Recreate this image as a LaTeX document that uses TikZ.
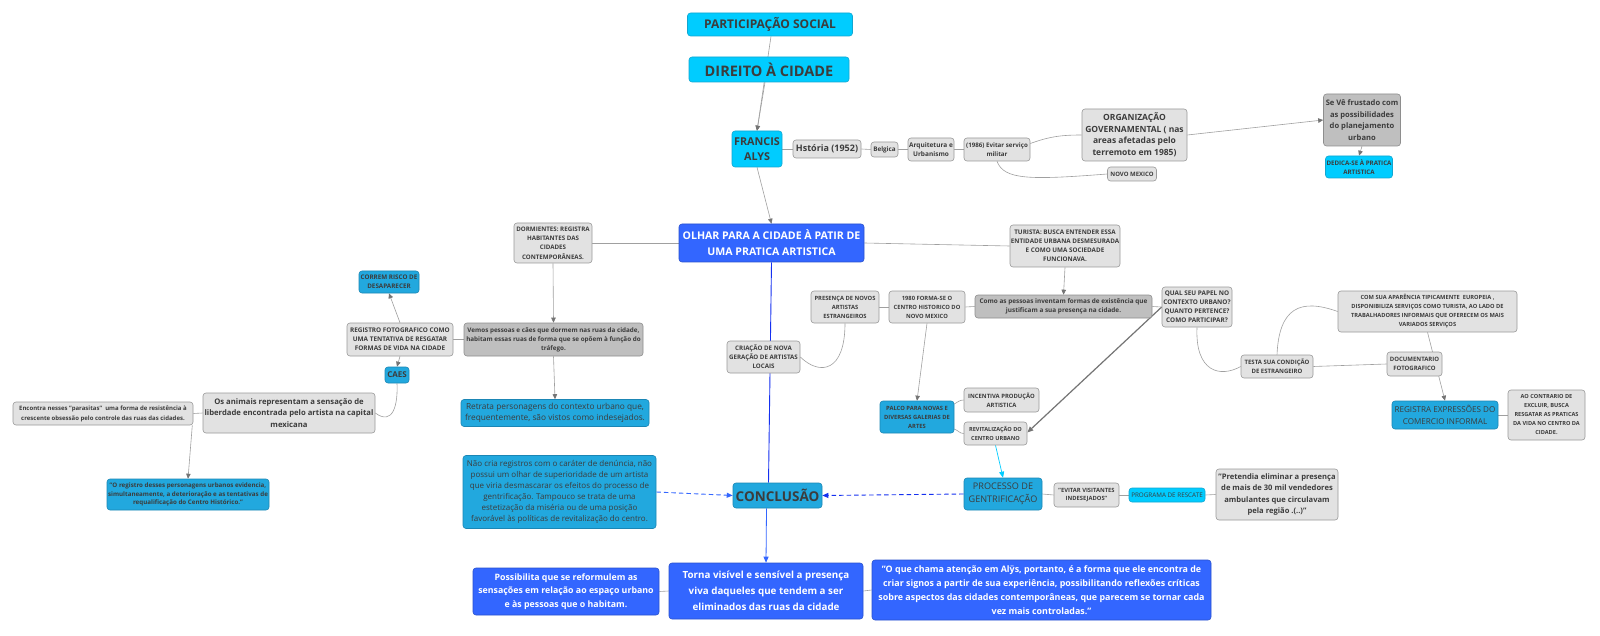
\documentclass[tikz,border=0pt]{standalone}
\usepackage{fontspec}
\setmainfont{Open Sans}
\usetikzlibrary{positioning, arrows.meta}
\pgfdeclarelayer{bg}
\pgfsetlayers{bg,main}
\definecolor{txt}{HTML}{3C3C3C}
\definecolor{grayfill}{HTML}{E2E2E2}
\definecolor{grayline}{HTML}{9A9A9A}
\definecolor{darkfill}{HTML}{BFBFBF}
\definecolor{darkline}{HTML}{8E8E8E}
\definecolor{cyanfill}{HTML}{00CCFF}
\definecolor{cyanline}{HTML}{12A6D0}
\definecolor{bluefill}{HTML}{22A8DE}
\definecolor{blueline}{HTML}{1B86B5}
\definecolor{royalfill}{HTML}{3366FF}
\definecolor{royalline}{HTML}{2A52CC}
\definecolor{linkgray}{HTML}{A0A0A0}
\definecolor{tipgray}{HTML}{747474}
\definecolor{deepblue}{HTML}{1530F0}

\begin{document}
\begin{tikzpicture}[x=1pt, y=-1pt,
    box/.style={rounded corners=3pt, align=center, inner sep=0.5pt, text=txt, line width=0.6pt},
    graybox/.style={box, fill=grayfill, draw=grayline},
    darkbox/.style={box, fill=darkfill, draw=darkline},
    cyanbox/.style={box, fill=cyanfill, draw=cyanline},
    bluebox/.style={box, fill=bluefill, draw=blueline},
    royalbox/.style={box, fill=royalfill, draw=royalline, text=white},
    wh/.style 2 args={minimum width=#1pt, minimum height=#2pt},
    ft/.style 2 args={font=\fontsize{#1pt}{#2pt}\selectfont\bfseries},
    fr/.style 2 args={font=\fontsize{#1pt}{#2pt}\selectfont},
    link/.style={draw=linkgray, line width=0.6pt},
    arr/.style={link, -{Triangle[length=5pt, width=4.5pt, color=tipgray]}},
    bluearr/.style={line width=0.8pt, -{Triangle[length=6pt, width=5pt]}},
    dasharr/.style={bluearr, line width=0.9pt, draw=deepblue, dash pattern=on 4.5pt off 3pt}]
\useasboundingbox (0,0) rectangle (1600,636);

\node (part) [cyanbox, wh={165}{23}, ft={12}{14}] at (770,24.5) {PARTICIPAÇÃO SOCIAL};
\node (dir) [cyanbox, wh={160}{25}, ft={14.5}{16}] at (769,69.5) {DIREITO À CIDADE};
\node (fran) [cyanbox, wh={50}{36}, ft={10.8}{15}] at (757,149) {FRANCIS\\ALYS};
\node (hist) [graybox, wh={68}{18}, ft={9}{10}] at (827,149) {Hstória (1952)};
\node (belg) [graybox, wh={27}{15}, ft={6.3}{7}] at (884.5,149.5) {Belgica};
\node (arq) [graybox, wh={46}{23}, ft={6.5}{9}] at (931,149.5) {Arquitetura e\\Urbanismo};
\node (serv) [graybox, wh={66}{23}, ft={6.2}{9}] at (997,149.5) {(1986) Evitar serviço\\militar};
\node (org) [graybox, wh={105}{52}, ft={8.5}{11.5}] at (1134.5,135) {ORGANIZAÇÃO\\GOVERNAMENTAL ( nas\\areas afetadas pelo\\terremoto em 1985)};
\node (novo) [graybox, wh={49}{14}, ft={6}{7}] at (1132,174) {NOVO MEXICO};
\node (frust) [darkbox, wh={77}{52}, ft={7.6}{11.5}] at (1362,120) {Se Vê frustado com\\as possibilidades\\do planejamento\\urbano};
\node (dedica) [cyanbox, wh={67}{22}, ft={6.2}{9}] at (1359,167) {DEDICA-SE À PRATICA\\ARTISTICA};

\node (olhar) [royalbox, wh={185}{38}, ft={10.6}{16}] at (771.5,243) {OLHAR PARA A CIDADE À PATIR DE\\UMA PRATICA ARTISTICA};
\node (dorm) [graybox, wh={78}{40}, ft={6.2}{9.2}] at (553,243) {DORMIENTES: REGISTRA\\HABITANTES DAS\\CIDADES\\CONTEMPORÂNEAS.};
\node (tur) [graybox, wh={110}{42}, ft={6.3}{9}] at (1065,246) {TURISTA: BUSCA ENTENDER ESSA\\ENTIDADE URBANA DESMESURADA\\E COMO UMA SOCIEDADE\\FUNCIONAVA.};
\node (vemos) [darkbox, wh={179}{33}, ft={6.3}{9}] at (553.5,339.5) {Vemos pessoas e cães que dormem nas ruas da cidade,\\habitam essas ruas de forma que se opõem à função do\\tráfego.};
\node (regfoto) [graybox, wh={106}{33}, ft={6.4}{9}] at (400,339.5) {REGISTRO FOTOGRAFICO COMO\\UMA TENTATIVA DE RESGATAR\\FORMAS DE VIDA NA CIDADE};
\node (risco) [bluebox, wh={60}{22}, ft={6.3}{9}] at (389,282) {CORREM RISCO DE\\DESAPARECER};
\node (caes) [bluebox, wh={24}{16}, ft={8}{9}] at (397,375) {CAES};
\node (animais) [graybox, wh={172}{40}, ft={7.7}{11.5}] at (289,413) {Os animais representam a sensação de\\liberdade encontrada pelo artista na capital\\mexicana};
\node (parasit) [graybox, wh={180}{23}, ft={6}{10}] at (103,413.5) {Encontra nesses "parasitas"\ \ uma forma de resistência à\\crescente obsessão pelo controle das ruas das cidades.};
\node (oreg) [bluebox, wh={162}{31}, ft={6.2}{8.5}] at (188,494.5) {"O registro desses personagens urbanos evidencia,\\simultaneamente, a deterioração e as tentativas de\\requalificação do Centro Histórico."};
\node (retrata) [bluebox, wh={188}{27}, fr={8.3}{11.5}] at (555,413) {Retrata personagens do contexto urbano que,\\frequentemente, são vistos como indesejados.};

\node (novos) [graybox, wh={68}{32}, ft={5.8}{9}] at (845,307) {PRESENÇA DE NOVOS\\ARTISTAS\\ESTRANGEIROS};
\node (centro) [graybox, wh={76}{32}, ft={5.8}{9}] at (927,307) {1980 FORMA-SE O\\CENTRO HISTORICO DO\\NOVO MEXICO};
\node (como) [darkbox, wh={177}{23}, ft={6.4}{9.3}] at (1063.5,306.5) {Como as pessoas inventam formas de existência que\\justificam a sua presença na cidade.};
\node (papel) [graybox, wh={70}{40}, ft={6.4}{9}] at (1197,307) {QUAL SEU PAPEL NO\\CONTEXTO URBANO?\\QUANTO PERTENCE?\\COMO PARTICIPAR?};
\node (europeia) [graybox, wh={179}{41}, ft={5.7}{9}] at (1427.5,311.5) {COM SUA APARÊNCIA TIPICAMENTE\ \ EUROPEIA ,\\DISPONIBILIZA SERVIÇOS COMO TURISTA, AO LADO DE\\TRABALHADORES INFORMAIS QUE OFERECEM OS MAIS\\VARIADOS SERVIÇOS};
\node (testa) [graybox, wh={72}{23}, ft={6}{9}] at (1277,366.5) {TESTA SUA CONDIÇÃO\\DE ESTRANGEIRO};
\node (docu) [graybox, wh={55}{24}, ft={6}{9}] at (1414.5,364) {DOCUMENTARIO\\FOTOGRAFICO};
\node (comercio) [bluebox, wh={106}{28}, fr={8.1}{12}] at (1445,415) {REGISTRA EXPRESSÕES DO\\COMERCIO INFORMAL};
\node (contrario) [graybox, wh={77}{50}, ft={5.6}{9}] at (1546.5,415) {AO CONTRARIO DE\\EXCLUIR, BUSCA\\RESGATAR AS PRATICAS\\DA VIDA NO CENTRO DA\\CIDADE.};
\node (locais) [graybox, wh={73}{32}, ft={6.2}{9}] at (763.5,357) {CRIAÇÃO DE NOVA\\GERAÇÃO DE ARTISTAS\\LOCAIS};
\node (palco) [bluebox, wh={74}{32}, ft={5.8}{9}] at (917,417) {PALCO PARA NOVAS E\\DIVERSAS GALERIAS DE\\ARTES};
\node (incent) [graybox, wh={75}{24}, ft={5.9}{9}] at (1001.5,400) {INCENTIVA PRODUÇÃO\\ARTISTICA};
\node (revit) [graybox, wh={63}{23}, ft={5.6}{9}] at (995.5,433.5) {REVITALIZAÇÃO DO\\CENTRO URBANO};

\node (concl) [bluebox, wh={89}{25}, ft={13.5}{16}] at (777.5,495.5) {CONCLUSÃO};
\node (denuncia) [bluebox, wh={193}{73}, fr={8}{11}] at (559.5,492) {Não cria registros com o caráter de denúncia, não\\possui um olhar de superioridade de um artista\\que viria desmascarar os efeitos do processo de\\gentrificação. Tampouco se trata de uma\\estetização da miséria ou de uma posição\\favorável às políticas de revitalização do centro.};
\node (gentri) [bluebox, wh={78}{32}, fr={9.1}{13}] at (1003,494) {PROCESSO DE\\GENTRIFICAÇÃO};
\node (visit) [graybox, wh={65}{24}, ft={5.8}{8.5}] at (1086.5,495) {"EVITAR VISITANTES\\INDESEJADOS"};
\node (resgate) [cyanbox, wh={76}{14}, fr={6.3}{7}] at (1167,495) {PROGRAMA DE RESCATE};
\node (vended) [graybox, wh={122}{51}, ft={7.6}{11.5}] at (1277,494.5) {"Pretendia eliminar a presença\\de mais de 30 mil vendedores\\ambulantes que circulavam\\pela região .(..)"};

\node (reform) [royalbox, wh={186}{47}, ft={8.8}{13.5}] at (566,591.5) {Possibilita que se reformulem as\\sensações em relação ao espaço urbano\\e às pessoas que o habitam.};
\node (torna) [royalbox, wh={194}{56}, ft={9.8}{16}] at (766,591) {Torna visível e sensível a presença\\viva daqueles que tendem a ser\\eliminados das ruas da cidade};
\node (alys) [royalbox, wh={339}{60}, ft={8.9}{14}] at (1041.5,590) {"O que chama atenção em Alÿs, portanto, é a forma que ele encontra de\\criar signos a partir de sua experiência, possibilitando reflexões críticas\\sobre aspectos das cidades contemporâneas, que parecem se tornar cada\\vez mais controladas."};

\begin{pgfonlayer}{bg}
\fill [white] (0,0) rectangle (1600,636);
\draw [arr] ([xshift=1pt]part.south) -- (fran.north);
\draw [arr] ([xshift=-4pt]dir.south) -- (fran.north);
\draw [link] (fran.east) -- (hist.west);
\draw [link] (hist.east) -- (belg.west);
\draw [link] (belg.east) -- (arq.west);
\draw [link] (arq.east) -- (serv.west);
\draw [link] ([yshift=6pt]serv.east) to [out=20, in=180] (org.west);
\draw [link] (serv.south) .. controls (1004,180) and (1030,180) .. (novo.west);
\draw [arr] (org.east) -- (frust.west);
\draw [arr] (frust.south) -- (dedica.north);
\draw [arr] (fran.south) -- (olhar.north);
\draw [link] (dorm.east) -- (olhar.west);
\draw [link] (olhar.east) -- (tur.west);
\draw [arr] (dorm.south) -- (vemos.north);
\draw [link] (vemos.west) -- (regfoto.east);
\draw [arr] (regfoto.north) -- (risco.south);
\draw [arr] (regfoto.south) -- (caes.north);
\draw [link] (caes.south) .. controls (398,405) and (393,426) .. (animais.east);
\draw [link] (parasit.east) -- (animais.west);
\draw [arr] ([xshift=-1pt]parasit.south east) -- (oreg.north);
\draw [arr] (vemos.south) -- (retrata.north);
\draw [line width=0.9pt, draw=deepblue] (olhar.south) -- ([xshift=-9pt]concl.north);
\draw [bluearr, draw=royalfill] ([xshift=-11pt]concl.south) -- (torna.north);
\draw [link] (locais.east) .. controls (820,376) and (845,372) .. (novos.south);
\draw [link] (novos.east) -- (centro.west);
\draw [link] (centro.east) -- (como.west);
\draw [arr] (tur.south) -- (como.north);
\draw [arr] (centro.south) -- (palco.north);
\draw [link] ([yshift=13pt]palco.east) to [out=30, in=180] (incent.west);
\draw [link] ([yshift=-12pt]palco.east) to [out=-20, in=180] (revit.west);
\draw [link] (como.east) -- (papel.west);
\draw [draw=tipgray, line width=1.2pt, -{Triangle[length=6pt, width=5pt]}] (papel.west) -- ([yshift=1pt]revit.east);
\draw [bluearr, draw=cyanfill, line width=0.7pt] (revit.south) -- (gentri.north);
\draw [dasharr] (gentri.west) -- (concl.east);
\draw [dasharr, draw=royalfill] (denuncia.east) -- (concl.west);
\draw [link] (gentri.east) -- (visit.west);
\draw [link] (visit.east) -- (resgate.west);
\draw [link] (resgate.east) -- (vended.west);
\draw [link] (papel.south) .. controls (1195,372) and (1220,378) .. (testa.west);
\draw [link] (testa.north) .. controls (1279,308) and (1300,298) .. (europeia.west);
\draw [link] (testa.east) -- (docu.west);
\draw [arr] (europeia.south) -- (comercio.north);
\draw [link] (comercio.east) -- (contrario.west);
\draw [link] (reform.east) -- (torna.west);
\draw [link] (torna.east) -- (alys.west);
\end{pgfonlayer}
\end{tikzpicture}
\end{document}
